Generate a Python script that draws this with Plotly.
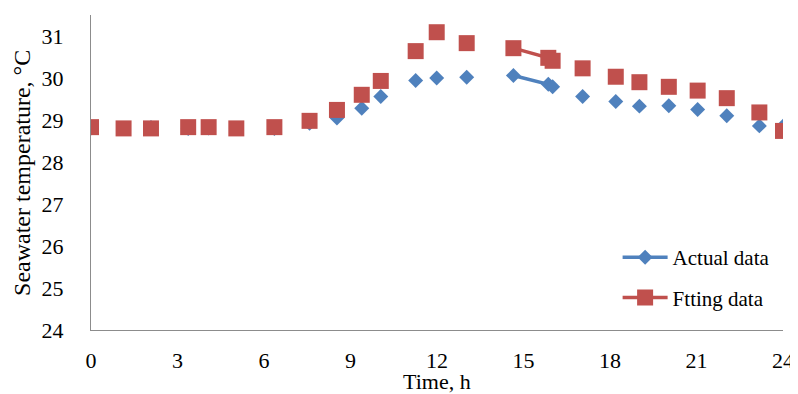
import plotly.graph_objects as go

# Time of measurement (h)
hours = [0, 1.13, 2.08, 3.37, 4.08, 5.04, 6.36, 7.58, 8.53, 9.39, 10.05, 11.26, 11.99,
         13.03, 14.65, 15.86, 16.01, 17.05, 18.2, 19.02, 20.04, 21.04, 22.05, 23.18, 24.0]
actual = [28.81, 28.80, 28.82, 28.80, 28.81, 28.80, 28.80, 28.92, 29.05, 29.28, 29.56, 29.94, 30.0,
          30.02, 30.06, 29.85, 29.79, 29.56, 29.44, 29.33, 29.34, 29.25, 29.10, 28.86, 28.85]
fitting = [28.83, 28.80, 28.80, 28.83, 28.83, 28.80, 28.83, 28.98, 29.24, 29.60, 29.93, 30.64, 31.09,
           30.83, 30.71, 30.48, 30.41, 30.23, 30.03, 29.90, 29.79, 29.70, 29.52, 29.18, 28.74]
# points sharing a segment id are joined by a line (other points stand alone)
segment_id = [0, 1, 2, 3, 4, 5, 6, 7, 8, 9, 10, 11, 12, 13, 14, 14, 14, 15, 16, 17, 18, 19, 20, 21, 22]
x_ticks = [0, 3, 6, 9, 12, 15, 18, 21, 24]
y_ticks = [24, 25, 26, 27, 28, 29, 30, 31]


def with_breaks(xs, ys, seg):
    ox, oy = [], []
    for i in range(len(xs)):
        if i > 0 and seg[i] != seg[i - 1]:
            ox.append(None)
            oy.append(None)
        ox.append(xs[i])
        oy.append(ys[i])
    return ox, oy


FONT = "Liberation Serif, Times New Roman, serif"
BLUE = "#4F81BD"
RED = "#C0504D"
FS = 22
TFS = 24

fig = go.Figure()
ax, ay = with_breaks(hours, actual, segment_id)
fx, fy = with_breaks(hours, fitting, segment_id)
fig.add_trace(go.Scatter(x=ax, y=ay, mode="lines+markers", name="Actual data",
                         legendgroup="a",
                         line=dict(color=BLUE, width=3.5),
                         marker=dict(symbol="diamond", size=11.5, color=BLUE)))
fig.add_trace(go.Scatter(x=fx, y=fy, mode="lines+markers", name="Ftting data",
                         legendgroup="b",
                         line=dict(color=RED, width=3.5),
                         marker=dict(symbol="square", size=16, color=RED)))

# page body has an 8px margin, so the figure is sized/offset to compensate
fig.update_layout(
    width=790, height=386,
    margin=dict(l=83, r=15, t=7, b=64),
    paper_bgcolor="white", plot_bgcolor="white",
    font=dict(family=FONT, size=FS, color="black"),
    showlegend=True,
    legend=dict(x=0.761, y=0.295, xanchor="left", yanchor="top",
                font=dict(family=FONT, size=21, color="black"),
                itemwidth=45, tracegroupgap=10, bgcolor="rgba(0,0,0,0)"),
    xaxis=dict(range=[0, 24], tickvals=x_ticks, showgrid=False, zeroline=False,
               showline=True, linecolor="#8c8c8c", linewidth=1.2,
               ticks="", ticklabelstandoff=10, automargin=False,
               tickfont=dict(family=FONT, size=FS)),
    yaxis=dict(range=[24, 31.5], tickvals=y_ticks, showgrid=False, zeroline=False,
               showline=True, linecolor="#8c8c8c", linewidth=1.2,
               ticks="", ticklabelstandoff=22, automargin=False,
               tickfont=dict(family=FONT, size=FS)),
    annotations=[
        dict(text="Time, h", xref="paper", yref="paper", x=0.5, y=-0.162,
             xanchor="center", yanchor="middle", showarrow=False,
             font=dict(family=FONT, size=FS)),
        dict(text="Seawater temperature, °C", xref="paper", yref="paper", x=-0.1, y=0.498,
             xanchor="center", yanchor="middle", showarrow=False, textangle=-90,
             font=dict(family=FONT, size=TFS)),
    ],
)

fig.write_html("out.html")
